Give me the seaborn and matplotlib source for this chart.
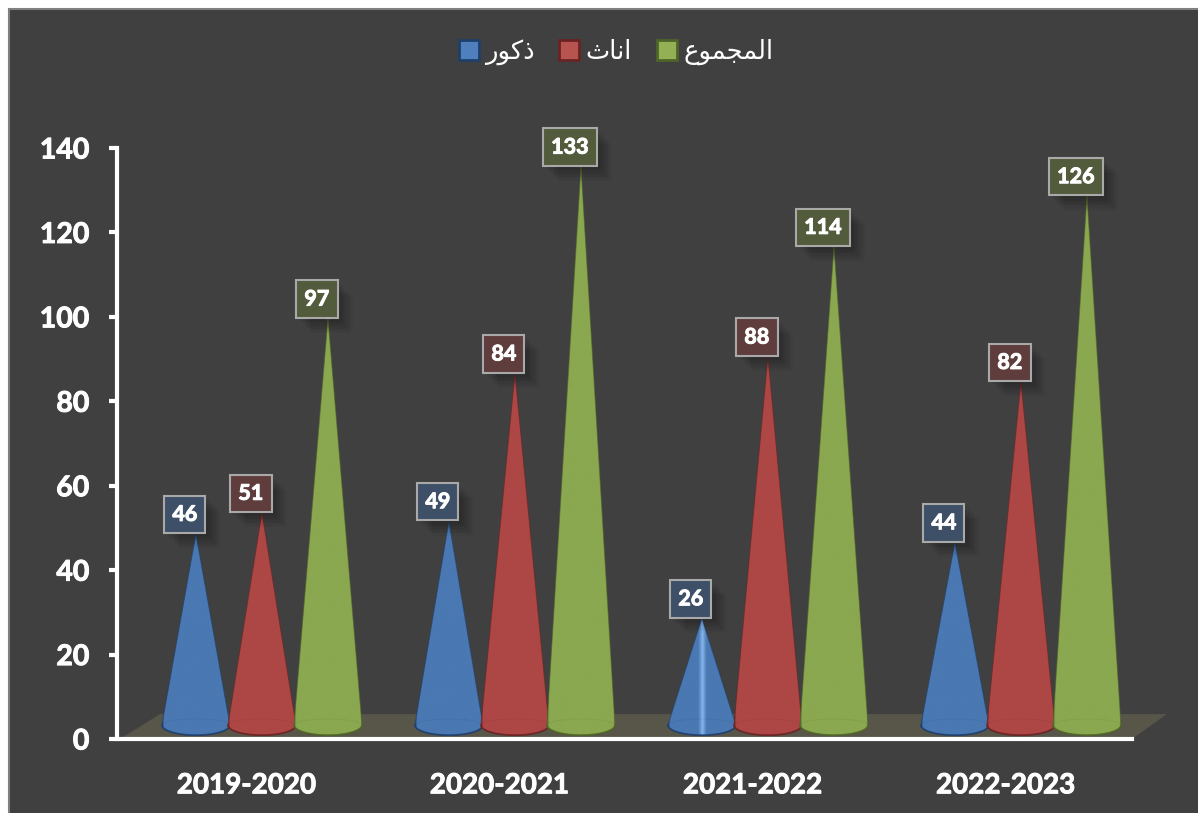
import numpy as np
import pandas as pd
import seaborn as sns
import matplotlib
matplotlib.use("Agg")
import matplotlib.pyplot as plt
from matplotlib import patheffects as pe
from matplotlib.colors import LinearSegmentedColormap
from matplotlib.patches import Patch, PathPatch, Polygon, Rectangle
from matplotlib.path import Path

years = ["2019-2020", "2020-2021", "2021-2022", "2022-2023"]
males = [46, 49, 26, 44]
females = [51, 84, 88, 82]
totals = [97, 133, 114, 126]

# arabic names, written as visual-order presentation forms because matplotlib has no shaping
name_males = "\ufead\ufeee\ufedb\ufeab"        # ذكور
name_females = "\ufe99\ufe8e\ufee7\ufe8d"       # اناث
name_totals = "\ufec9\ufeee\ufee4\ufea0\ufee4\ufedf\ufe8d"  # المجموع
names = [name_males, name_females, name_totals]

body = {name_males: "#4a78b2", name_females: "#ad4745", name_totals: "#8aa850"}
edge = {name_males: "#1f3f6b", name_females: "#6a2323", name_totals: "#4f6428"}
streak = {name_males: "#86b6ee", name_females: "#c25c5a", name_totals: "#9cbb60"}
swatch = {name_males: "#4f80bd", name_females: "#b85450", name_totals: "#94b055"}
box = {name_males: "#3e5068", name_females: "#5f3d3d", name_totals: "#525c3c"}

BG = "#404040"
FLOOR = "#585549"
bold = [pe.withStroke(linewidth=0.7, foreground="white")]

df = pd.DataFrame({
    "year": years * 3,
    "name": [name_males] * 4 + [name_females] * 4 + [name_totals] * 4,
    "value": males + females + totals,
})

sns.set_theme(style="white", rc={"axes.facecolor": "none"})
plt.rcParams["font.family"] = ["Lato", "DejaVu Sans"]

fig = plt.figure(figsize=(11.98, 8.13), dpi=100, facecolor="white")
fig.patches.append(Rectangle((9 / 1198, -0.02), 1.05, 803.5 / 813 + 0.02, transform=fig.transFigure,
                             facecolor=BG, edgecolor="#808080", linewidth=1.5, zorder=-5))
ax = fig.add_axes([120 / 1198, 74 / 813, 1012 / 1198, 591 / 813])

sns.barplot(data=df, x="year", y="value", hue="name", hue_order=names, order=years,
            width=0.783, gap=0, palette=body, legend=False, errorbar=None, ax=ax)

# depth of the fake 3d view, in data units
dx = 0.061
dy = 2.6
base_y = 3.3
base_w = 0.1344
base_h = 2.4

# floor
ax.add_patch(Polygon([(-0.5, 0), (3.5, 0), (3.638, 5.9), (-0.342, 5.9)], closed=True,
                     facecolor=FLOOR, edgecolor="none", zorder=1, clip_on=False))

# the bars only give the positions, cones are drawn on top of them
bars = []
for name, cont in zip(names, ax.containers):
    for bar in cont:
        bar.set_visible(False)
        bars.append((bar.get_x() + bar.get_width() / 2, bar.get_height(), name))
bars.sort(key=lambda b: b[0])

z = 2
t = np.linspace(0, np.pi, 40)
for cx, h, name in bars:
    cx = cx + dx
    tip = h + dy
    # the shortest cone shows a bright streak, on the others it is not visible
    mid = streak[name] if h < 30 else body[name]
    stops = [0.0, 0.03, 0.44, 0.5, 0.56, 0.97, 1.0]
    cols = [edge[name], body[name], body[name], mid, body[name], body[name], edge[name]]
    cmap = LinearSegmentedColormap.from_list("c", list(zip(stops, cols)))
    verts = [(cx, tip)] + list(zip(cx - base_w * np.cos(t), base_y - base_h * np.sin(t))) + [(cx, tip)]
    im = ax.imshow(np.linspace(0, 1, 256).reshape(1, -1), extent=(cx - base_w, cx + base_w, 0, tip),
                   cmap=cmap, aspect="auto", zorder=z, interpolation="bilinear")
    cone = PathPatch(Path(verts), facecolor="none", edgecolor=edge[name], linewidth=0.7, zorder=z + 0.1, alpha=0.6)
    ax.add_patch(cone)
    im.set_clip_path(cone)
    # rim at the foot of the cone
    ax.plot(cx - base_w * np.cos(t), base_y + base_h * 0.6 * np.sin(t), color=edge[name], lw=0.6, alpha=0.12, zorder=z + 0.2)
    ax.plot(cx - base_w * np.cos(t), base_y - base_h * np.sin(t), color=edge[name], lw=1.3, alpha=0.8, zorder=z + 0.2)
    z += 1

ax.set_xlim(-0.5, 3.5)
ax.set_ylim(0, 140)

# value labels
for cx, h, name in bars:
    txt = ax.annotate(str(int(h)), xy=(cx + dx, h + dy), xytext=(-8, 14), textcoords="offset points",
                      ha="center", va="center", color="white", fontsize=15.5, fontweight="bold", zorder=30,
                      annotation_clip=False, path_effects=bold,
                      bbox=dict(boxstyle="square,pad=0.38", facecolor=box[name], edgecolor="#a9a9a9", linewidth=1.5))
    # soft shadow under the box
    txt.get_bbox_patch().set_path_effects(
        [pe.SimplePatchShadow(offset=(i, -i), shadow_rgbFace="black", alpha=0.025) for i in range(1, 12)] + [pe.Normal()])

ax.set_xlabel("")
ax.set_ylabel("")
ax.set_yticks(range(0, 141, 20))
sns.despine(ax=ax)
ax.spines["left"].set_position(("outward", 2))
for side in ["left", "bottom"]:
    ax.spines[side].set_color("white")
    ax.spines[side].set_linewidth(3)
    ax.spines[side].set_zorder(20)
ax.tick_params(axis="y", left=True, length=6, width=3, color="white", labelcolor="white", labelsize=20.5, pad=14)
ax.tick_params(axis="x", bottom=False, labelcolor="white", labelsize=20, pad=18)
for lab in ax.get_xticklabels() + ax.get_yticklabels():
    lab.set_fontweight("bold")
    lab.set_path_effects(bold)

handles = [Patch(facecolor=swatch[n], edgecolor=edge[n], linewidth=2) for n in names]
ax.legend(handles, names, ncol=3, loc="center", bbox_to_anchor=(616 / 1198, 761 / 813), bbox_transform=fig.transFigure,
          frameon=False, handlelength=0.78, handleheight=0.78, handletextpad=0.25, columnspacing=0.95,
          labelcolor="white", prop={"family": "DejaVu Sans", "size": 18.5})

fig.savefig("out.png", dpi=100, facecolor=fig.get_facecolor())
